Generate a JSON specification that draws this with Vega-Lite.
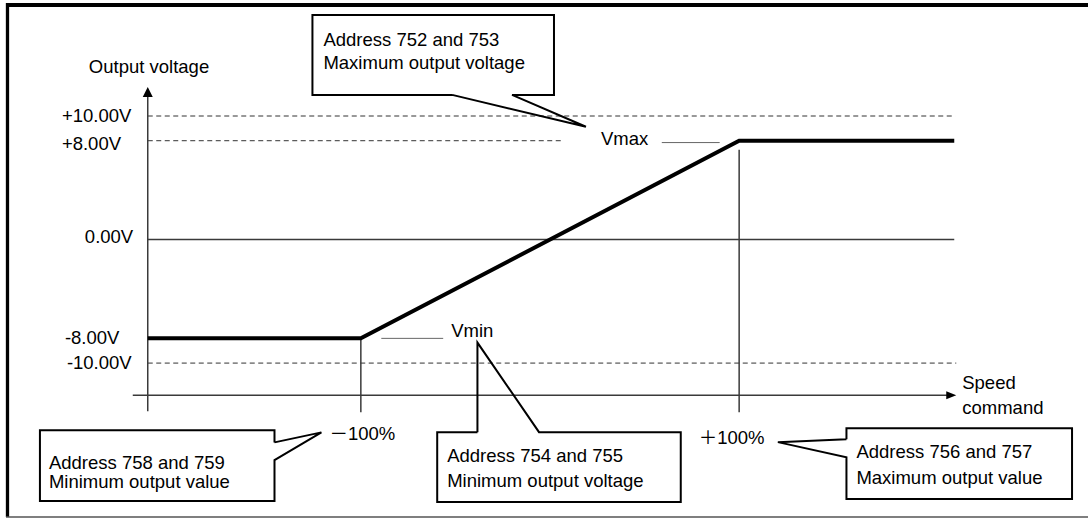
{
  "$schema": "https://vega.github.io/schema/vega-lite/v6.json",
  "width": 1090,
  "height": 519,
  "padding": 0,
  "autosize": {"type": "fit", "contains": "padding"},
  "background": "white",
  "config": {"view": {"stroke": null}},
  "datasets": {
    "segments": [
      {"role": "frameLeft", "x": -286.81, "x2": -286.81, "y": 19.14, "y2": -22.46},
      {"role": "frameTop", "x": -287.6, "x2": 284.43, "y": 18.98, "y2": 18.98},
      {"role": "frameBottom", "x": -287.6, "x2": 284.43, "y": -22.46, "y2": -22.46},
      {"role": "dashed", "x": -212.66, "x2": 214.25, "y": 10, "y2": 10},
      {"role": "dashed", "x": -212.66, "x2": 6.33, "y": 8, "y2": 8},
      {"role": "dashed", "x": -212.66, "x2": 214.78, "y": -10, "y2": -10},
      {"role": "axis", "x": -212.66, "x2": -212.66, "y": -13.89, "y2": 11.87},
      {"role": "axis", "x": -220.58, "x2": 210.03, "y": -12.6, "y2": -12.6},
      {"role": "axis", "x": -100, "x2": -100, "y": -8, "y2": -13.97},
      {"role": "axis", "x": 100, "x2": 100, "y": 7.27, "y2": -13.97},
      {"role": "axis", "x": -212.66, "x2": 213.72, "y": 0, "y2": 0},
      {"role": "marker", "x": 59.1, "x2": 89.71, "y": 7.85, "y2": 7.85},
      {"role": "marker", "x": -89.18, "x2": -56.46, "y": -8, "y2": -8}
    ],
    "output": [
      {"command": -212.66, "voltage": -8},
      {"command": -100, "voltage": -8},
      {"command": 100, "voltage": 8},
      {"command": 213.72, "voltage": 8}
    ],
    "arrows": [
      {"dir": "up", "x": -212.66, "y": 11.95},
      {"dir": "right", "x": 212.14, "y": -12.6}
    ],
    "callouts": [
      {"id": "maxV", "i": 0, "x": -51.72, "y": 11.71},
      {"id": "maxV", "i": 1, "x": -125.59, "y": 11.71},
      {"id": "maxV", "i": 2, "x": -125.59, "y": 18.17},
      {"id": "maxV", "i": 3, "x": 2.11, "y": 18.17},
      {"id": "maxV", "i": 4, "x": 2.11, "y": 11.71},
      {"id": "maxV", "i": 5, "x": -20.05, "y": 11.71},
      {"id": "maxV", "i": 6, "x": 19.0, "y": 9.13},
      {"id": "maxV", "i": 7, "x": -51.72, "y": 11.71},
      {"id": "minOut", "i": 0, "x": -145.65, "y": -16.42},
      {"id": "minOut", "i": 1, "x": -145.65, "y": -15.43},
      {"id": "minOut", "i": 2, "x": -269.66, "y": -15.43},
      {"id": "minOut", "i": 3, "x": -269.66, "y": -21.16},
      {"id": "minOut", "i": 4, "x": -145.65, "y": -21.16},
      {"id": "minOut", "i": 5, "x": -145.65, "y": -17.85},
      {"id": "minOut", "i": 6, "x": -120.84, "y": -15.61},
      {"id": "minOut", "i": 7, "x": -145.65, "y": -16.42},
      {"id": "minV", "i": 0, "x": -38.36, "y": -15.59},
      {"id": "minV", "i": 1, "x": -59.63, "y": -15.59},
      {"id": "minV", "i": 2, "x": -59.63, "y": -21.24},
      {"id": "minV", "i": 3, "x": 69.13, "y": -21.24},
      {"id": "minV", "i": 4, "x": 69.13, "y": -15.59},
      {"id": "minV", "i": 5, "x": -5.8, "y": -15.59},
      {"id": "minV", "i": 6, "x": -38.36, "y": -8.34},
      {"id": "minV", "i": 7, "x": -38.36, "y": -15.59},
      {"id": "maxOut", "i": 0, "x": 156.73, "y": -16.16},
      {"id": "maxOut", "i": 1, "x": 156.73, "y": -15.27},
      {"id": "maxOut", "i": 2, "x": 275.99, "y": -15.27},
      {"id": "maxOut", "i": 3, "x": 275.99, "y": -21.0},
      {"id": "maxOut", "i": 4, "x": 156.73, "y": -21.0},
      {"id": "maxOut", "i": 5, "x": 156.73, "y": -17.63},
      {"id": "maxOut", "i": 6, "x": 120.48, "y": -16.4},
      {"id": "maxOut", "i": 7, "x": 156.73, "y": -16.16}
    ],
    "levelLabels": [
      {"label": "+10.00V", "x": -258.05, "y": 10},
      {"label": "+8.00V", "x": -258.05, "y": 7.7},
      {"label": "0.00V", "x": -245.91, "y": 0.2},
      {"label": "-8.00V", "x": -256.46, "y": -8},
      {"label": "-10.00V", "x": -255.41, "y": -10},
      {"label": "Vmax", "x": 26.91, "y": 8.1},
      {"label": "Vmin", "x": -52.24, "y": -7.43},
      {"label": "－100%", "x": -116.62, "y": -15.71},
      {"label": "＋100%", "x": 78.63, "y": -16.03}
    ],
    "notes": [
      {"label": "Output voltage", "x": -243.8, "y": 13.49},
      {"label": "Address 752 and 753", "x": -119.79, "y": 15.69},
      {"label": "Maximum output voltage", "x": -119.79, "y": 13.79},
      {"label": "Address 758 and 759", "x": -264.91, "y": -18.58},
      {"label": "Minimum output value", "x": -264.91, "y": -20.11},
      {"label": "Address 754 and 755", "x": -54.35, "y": -18.04},
      {"label": "Minimum output voltage", "x": -54.35, "y": -20.06},
      {"label": "Address 756 and 757", "x": 161.99, "y": -17.71},
      {"label": "Maximum output value", "x": 161.99, "y": -19.79},
      {"label": "Speed", "x": 217.94, "y": -12.06},
      {"label": "command", "x": 217.94, "y": -14.14}
    ]
  },
  "layer": [
    {
      "data": {"name": "segments"},
      "transform": [{"filter": "datum.role === 'frameLeft'"}],
      "mark": {"type": "rule", "color": "#000000", "strokeWidth": 3.3},
      "encoding": {
        "x": {"field": "x", "type": "quantitative", "scale": {"domain": [-290.77, 284.43], "nice": false, "zero": false}, "axis": null},
        "x2": {"field": "x2"},
        "y": {"field": "y", "type": "quantitative", "scale": {"domain": [-22.54, 19.39], "nice": false, "zero": false}, "axis": null},
        "y2": {"field": "y2"}
      }
    },
    {
      "data": {"name": "segments"},
      "transform": [{"filter": "datum.role === 'frameTop'"}],
      "mark": {"type": "rule", "color": "#000000", "strokeWidth": 4},
      "encoding": {
        "x": {"field": "x", "type": "quantitative"},
        "x2": {"field": "x2"},
        "y": {"field": "y", "type": "quantitative"},
        "y2": {"field": "y2"}
      }
    },
    {
      "data": {"name": "segments"},
      "transform": [{"filter": "datum.role === 'frameBottom'"}],
      "mark": {"type": "rule", "color": "#555555", "strokeWidth": 1.5},
      "encoding": {
        "x": {"field": "x", "type": "quantitative"},
        "x2": {"field": "x2"},
        "y": {"field": "y", "type": "quantitative"},
        "y2": {"field": "y2"}
      }
    },
    {
      "data": {"name": "segments"},
      "transform": [{"filter": "datum.role === 'dashed'"}],
      "mark": {"type": "rule", "color": "#333333", "strokeWidth": 1, "strokeDash": [5, 3.5]},
      "encoding": {
        "x": {"field": "x", "type": "quantitative"},
        "x2": {"field": "x2"},
        "y": {"field": "y", "type": "quantitative"},
        "y2": {"field": "y2"}
      }
    },
    {
      "data": {"name": "segments"},
      "transform": [{"filter": "datum.role === 'axis'"}],
      "mark": {"type": "rule", "color": "#3a3a3a", "strokeWidth": 1.5},
      "encoding": {
        "x": {"field": "x", "type": "quantitative"},
        "x2": {"field": "x2"},
        "y": {"field": "y", "type": "quantitative"},
        "y2": {"field": "y2"}
      }
    },
    {
      "data": {"name": "segments"},
      "transform": [{"filter": "datum.role === 'marker'"}],
      "mark": {"type": "rule", "color": "#666666", "strokeWidth": 1},
      "encoding": {
        "x": {"field": "x", "type": "quantitative"},
        "x2": {"field": "x2"},
        "y": {"field": "y", "type": "quantitative"},
        "y2": {"field": "y2"}
      }
    },
    {
      "data": {"name": "output"},
      "mark": {"type": "line", "color": "#000000", "strokeWidth": 4, "strokeCap": "butt", "strokeJoin": "miter"},
      "encoding": {
        "x": {"field": "command", "type": "quantitative"},
        "y": {"field": "voltage", "type": "quantitative"}
      }
    },
    {
      "data": {"name": "callouts"},
      "mark": {"type": "line", "color": "#000000", "strokeWidth": 2, "strokeJoin": "miter"},
      "encoding": {
        "x": {"field": "x", "type": "quantitative"},
        "y": {"field": "y", "type": "quantitative"},
        "detail": {"field": "id"},
        "order": {"field": "i", "type": "quantitative"}
      }
    },
    {
      "data": {"name": "arrows"},
      "transform": [{"filter": "datum.dir === 'up'"}],
      "mark": {"type": "point", "shape": "M0,-1L1,1L-1,1Z", "size": 100, "filled": true, "color": "#000000", "opacity": 1},
      "encoding": {
        "x": {"field": "x", "type": "quantitative"},
        "y": {"field": "y", "type": "quantitative"}
      }
    },
    {
      "data": {"name": "arrows"},
      "transform": [{"filter": "datum.dir === 'right'"}],
      "mark": {"type": "point", "shape": "M1,0L-1,-0.8L-1,0.8Z", "size": 100, "filled": true, "color": "#000000", "opacity": 1},
      "encoding": {
        "x": {"field": "x", "type": "quantitative"},
        "y": {"field": "y", "type": "quantitative"}
      }
    },
    {
      "data": {"name": "levelLabels"},
      "mark": {"type": "text", "align": "left", "baseline": "middle", "font": "Liberation Sans, Arial, Noto Sans CJK JP, sans-serif", "fontSize": 18.5, "color": "#000000"},
      "encoding": {
        "x": {"field": "x", "type": "quantitative"},
        "y": {"field": "y", "type": "quantitative"},
        "text": {"field": "label"}
      }
    },
    {
      "data": {"name": "notes"},
      "mark": {"type": "text", "align": "left", "baseline": "alphabetic", "font": "Liberation Sans, Arial, sans-serif", "fontSize": 18.5, "color": "#000000"},
      "encoding": {
        "x": {"field": "x", "type": "quantitative"},
        "y": {"field": "y", "type": "quantitative"},
        "text": {"field": "label"}
      }
    }
  ]
}
